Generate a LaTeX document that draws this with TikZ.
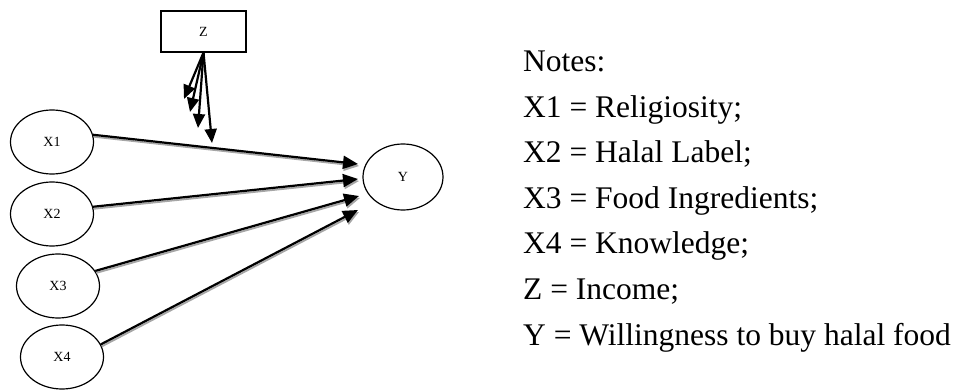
\documentclass[tikz,border=0pt]{standalone}
\usepackage{fontspec}
\setmainfont{Liberation Serif}
\usetikzlibrary{shapes.geometric,arrows.meta}
\begin{document}
\begin{tikzpicture}[x=1pt,y=-1pt,
  var/.style={draw, ellipse, line width=1.2pt, minimum width=83pt, minimum height=64pt, inner sep=0pt, font=\fontsize{14}{16}\selectfont},
  zbox/.style={draw, rectangle, line width=1.2pt, minimum width=85pt, minimum height=41pt, inner sep=0pt, font=\fontsize{14}{16}\selectfont},
  arr/.style={line width=2.2pt, -{Triangle[length=15pt,width=13pt]}},
  zarr/.style={line width=2.2pt, -{Triangle[length=14pt,width=12pt]}},
  shad/.style={line width=1.8pt, black!35, -{Triangle[length=15pt,width=13pt]}},
  note/.style={anchor=base west, inner sep=0pt, font=\fontsize{31.5}{36}\selectfont}]
\useasboundingbox (0,0) rectangle (954,390);

% nodes
\node[zbox] (Z) at (203.5,31.5) {Z};
\node[var] (X1) at (52,142) {X1};
\node[var] (X2) at (52,214) {X2};
\node[var] (X3) at (58,286) {X3};
\node[var] (X4) at (62,357) {X4};
\node[var, minimum width=80pt, minimum height=66pt] (Y) at (403,177) {Y};

% arrow tips
\coordinate (t1) at (358,164);
\coordinate (t2) at (358,179);
\coordinate (t3) at (359,196);
\coordinate (t4) at (358,210);
\coordinate (z1) at (184,99);
\coordinate (z2) at (190,112);
\coordinate (z3) at (198,128);
\coordinate (z4) at (212,143);

% shadows
\draw[shad] ([xshift=1pt,yshift=-2pt]X1.10) -- ([xshift=1pt,yshift=-2pt]t1);
\draw[shad] ([xshift=1pt,yshift=-2pt]X2.10) -- ([xshift=1pt,yshift=-2pt]t2);
\draw[shad] ([xshift=1pt,yshift=-2pt]X3.22) -- ([xshift=1pt,yshift=-2pt]t3);
\draw[shad] ([xshift=1pt,yshift=-2pt]X4.18) -- ([xshift=1pt,yshift=-2pt]t4);

% arrows X -> Y
\draw[arr] (X1.10) -- (t1);
\draw[arr] (X2.10) -- (t2);
\draw[arr] (X3.22) -- (t3);
\draw[arr] (X4.18) -- (t4);

% arrows from Z
\draw[zarr] (Z.south) -- (z1);
\draw[zarr] (Z.south) -- (z2);
\draw[zarr] (Z.south) -- (z3);
\draw[zarr] (Z.south) -- (z4);

% notes
\node[note] (n0) at (523,72) {Notes:};
\node[note] (n1) at (523,117.5) {X1 = Religiosity;};
\node[note] (n2) at (523,163) {X2 = Halal Label;};
\node[note] (n3) at (523,208.5) {X3 = Food Ingredients;};
\node[note] (n4) at (523,254) {X4 = Knowledge;};
\node[note] (n5) at (523,299.5) {Z = Income;};
\node[note] (n6) at (523,345) {Y = Willingness to buy halal food};
\end{tikzpicture}
\end{document}
